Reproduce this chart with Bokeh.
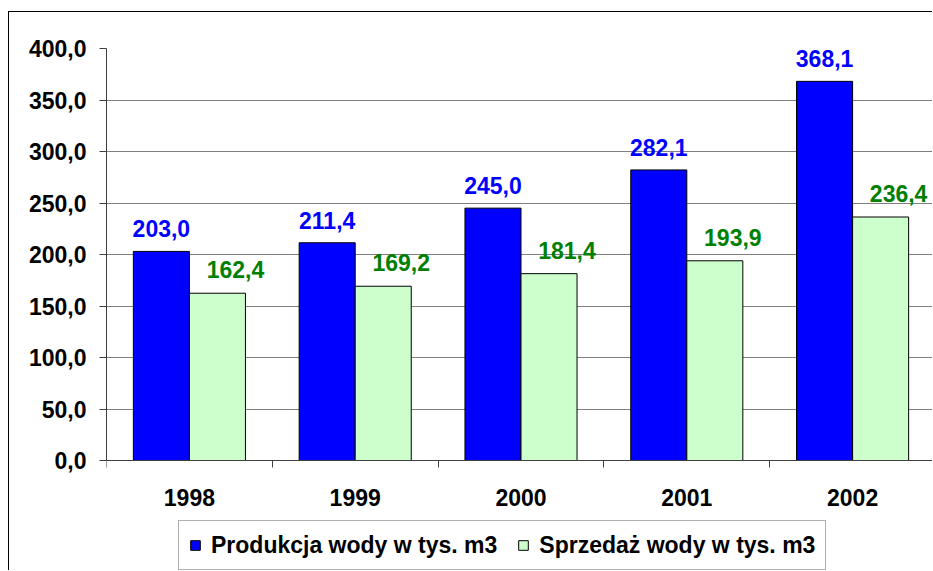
from bokeh.plotting import figure
from bokeh.models import Range1d, FixedTicker, Legend, LegendItem
from bokeh.core.properties import value
from bokeh.embed import file_html
from bokeh.resources import INLINE

years = ["1998", "1999", "2000", "2001", "2002"]
produkcja = [203.0, 211.4, 245.0, 282.1, 368.1]
sprzedaz = [162.4, 169.2, 181.4, 193.9, 236.4]
y_ticks = [0, 50, 100, 150, 200, 250, 300, 350, 400]
y_tick_labels = ["0,0", "50,0", "100,0", "150,0", "200,0", "250,0", "300,0", "350,0", "400,0"]

FONT = "Liberation Sans"
FS = "23px"
W, H = 924, 559
FRAME_L, FRAME_T, FRAME_B = 97, 36, 448
CAT_PX = 165.8
BAR_W = 0.338
PX_PER_UNIT = (FRAME_B - FRAME_T) / 400.0

def fmt(v):
    return f"{v:.1f}".replace(".", ",")

n = len(years)
centers = [i + 0.5 for i in range(n)]
x_blue = [c - BAR_W / 2 for c in centers]
x_green = [c + BAR_W / 2 for c in centers]

p = figure(width=W, height=H, output_backend="svg", toolbar_location=None,
           x_range=Range1d(0, (W - FRAME_L) / CAT_PX),
           y_range=Range1d(-(H - FRAME_B) / PX_PER_UNIT, 400),
           min_border_left=FRAME_L, min_border_top=FRAME_T, min_border_right=0,
           min_border_bottom=0)
p.styles = {"border-top": "1px solid black", "border-left": "1px solid black",
            "margin-top": "11px", "margin-left": "8px"}
p.outline_line_color = None
p.background_fill_color = "white"
p.border_fill_color = "white"

# y axis
ya = p.yaxis[0]
ya.ticker = FixedTicker(ticks=y_ticks)
ya.bounds = (0, 400)
ya.major_label_overrides = {t: l for t, l in zip(y_ticks, y_tick_labels)}
ya.major_label_text_font = FONT
ya.major_label_text_font_style = "bold"
ya.major_label_text_font_size = FS
ya.major_label_text_color = "black"
ya.major_tick_out = 7
ya.major_tick_in = 0
ya.minor_tick_line_color = None
ya.axis_line_color = "#404040"
ya.major_tick_line_color = "#404040"
ya.major_label_standoff = 13

# x axis, pinned at value 0
xa = p.xaxis[0]
xa.fixed_location = 0
xa.ticker = FixedTicker(ticks=centers, minor_ticks=list(range(n + 1)))
xa.major_label_overrides = {c: y for c, y in zip(centers, years)}
xa.major_label_text_font = FONT
xa.major_label_text_font_style = "bold"
xa.major_label_text_font_size = FS
xa.major_label_text_color = "black"
xa.major_tick_line_color = None
xa.major_tick_out = 0
xa.major_tick_in = 0
xa.minor_tick_out = 7
xa.minor_tick_in = 0
xa.minor_tick_line_color = "#404040"
xa.axis_line_color = "#404040"
xa.major_label_standoff = 21

p.xgrid.grid_line_color = None
p.ygrid.ticker = FixedTicker(ticks=y_ticks)
p.ygrid.grid_line_color = "#808080"

r1 = p.vbar(x=x_blue, width=BAR_W, top=produkcja, bottom=0,
            fill_color="#0000FF", line_color="black", line_width=1)
r2 = p.vbar(x=x_green, width=BAR_W, top=sprzedaz, bottom=0,
            fill_color="#CCFFCC", line_color="black", line_width=1)

p.text(x=x_blue, y=produkcja, text=[fmt(v) for v in produkcja],
       text_align="center", text_baseline="bottom", y_offset=-14,
       text_font=value(FONT), text_font_style="bold", text_font_size=FS,
       text_color="#0000FF")
p.text(x=x_green, y=sprzedaz, text=[fmt(v) for v in sprzedaz],
       text_align="center", text_baseline="bottom", x_offset=18, y_offset=-15,
       text_font=value(FONT), text_font_style="bold", text_font_size=FS,
       text_color="#008000")

legend = Legend(items=[LegendItem(label="Produkcja wody w tys. m3", renderers=[r1]),
                       LegendItem(label="Sprzedaż wody w tys. m3", renderers=[r2])],
                orientation="horizontal", location=(72, 1),
                glyph_width=12, glyph_height=12, label_standoff=10, spacing=20,
                padding=10, margin=0, label_height=28,
                label_text_font=FONT, label_text_font_style="bold",
                label_text_font_size=FS, label_text_color="black",
                border_line_color="#606060", border_line_width=1,
                background_fill_color="white", background_fill_alpha=1)
p.add_layout(legend, "center")

open("out.html", "w").write(file_html(p, INLINE))
